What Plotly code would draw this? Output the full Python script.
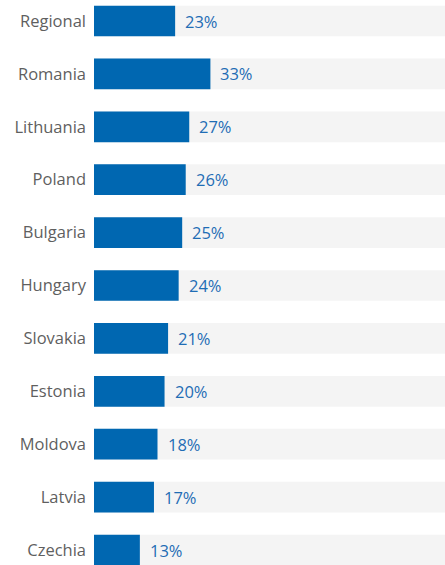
import plotly.graph_objects as go

countries = ["Regional", "Romania", "Lithuania", "Poland", "Bulgaria", "Hungary",
             "Slovakia", "Estonia", "Moldova", "Latvia", "Czechia"]
shares = [23, 33, 27, 26, 25, 24, 21, 20, 18, 17, 13]
full_scale = [100] * len(countries)

BLUE = "#0067b1"
TRACK = "#f4f4f4"
LABEL_FONT = "Open Sans, sans-serif"

fig = go.Figure()
fig.add_trace(go.Bar(y=countries, x=full_scale, orientation="h",
                     marker=dict(color=TRACK, line=dict(width=0)),
                     hoverinfo="skip", showlegend=False))
fig.add_trace(go.Bar(y=countries, x=shares, orientation="h",
                     marker=dict(color=BLUE, line=dict(width=0)),
                     showlegend=False))

for c, v in zip(countries, shares):
    fig.add_annotation(x=v, y=c, text=f"{v}%", showarrow=False,
                       xanchor="left", xshift=8,
                       font=dict(family=LABEL_FONT, size=16.5, color="#1f6db5"))

n = len(countries)
row_px = 52.9
fig.update_layout(
    width=445, height=565,
    margin=dict(l=94, r=0, t=0, b=0),
    barmode="overlay", bargap=0.42,
    plot_bgcolor="white", paper_bgcolor="white",
    xaxis=dict(range=[0, 99.5], visible=False, fixedrange=True),
    yaxis=dict(categoryorder="array", categoryarray=countries,
               range=[n - 1 + 15 / row_px, -21 / row_px],
               showgrid=False, zeroline=False, showline=False, ticks="",
               ticklabelstandoff=7,
               tickfont=dict(family=LABEL_FONT, size=16.5, color="#5f5f5f")),
)

fig.write_html("out.html")
